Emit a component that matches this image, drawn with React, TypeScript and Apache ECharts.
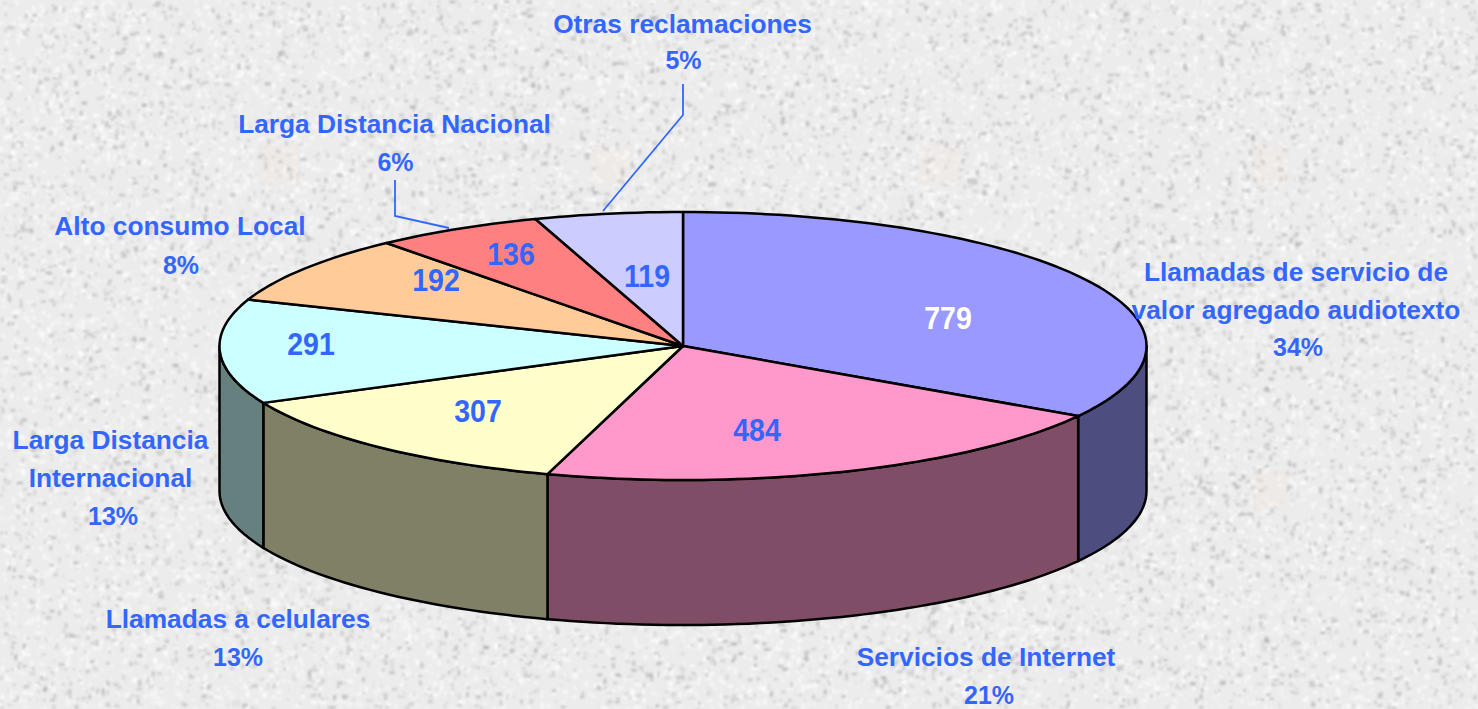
import React, { useEffect, useRef } from "react";
import * as echarts from "echarts";

const categories = [
  ["Llamadas de servicio de", "valor agregado audiotexto"],
  ["Servicios de Internet"],
  ["Llamadas a celulares"],
  ["Larga Distancia", "Internacional"],
  ["Alto consumo Local"],
  ["Larga Distancia Nacional"],
  ["Otras reclamaciones"],
];
const values = [779, 484, 307, 291, 192, 136, 119];
const topColors = ["#9999FF", "#FF99CC", "#FFFFCC", "#CCFFFF", "#FFCC99", "#FF8080", "#CCCCFF"];
const wallColors = ["#4D4D80", "#804D66", "#808066", "#668080", "#806650", "#804040", "#666680"];
const valueColors = ["#FFFFFF", "#3366FF", "#3366FF", "#3366FF", "#3366FF", "#3366FF", "#3366FF"];
const valueLabelPos = [[948, 318], [757, 430], [478, 411], [311, 344], [436, 280], [511, 254], [647, 276]];
const nameLabelPos = [[1296, 272], [986, 657], [238, 619], [110.5, 440], [180, 226], [394.5, 124], [682.5, 24]];
const pctLabelOffset = [2, 3, 0, 2.5, 1, 1, 1];
const lineGaps = [37.7, 38, 38, 38, 39, 38, 36];
const leaders = [
  [[395, 180], [395, 216], [449, 228]],
  [[683, 84], [683, 115], [603, 211]],
];

const CX = 683, CY = 346, RX = 463.5, RY = 134, DEPTH = 145;
const total = values.reduce((a, b) => a + b, 0);
const BLUE = "#3366FF";
const FONT = '"Liberation Sans", Arial, sans-serif';

const pt = (deg: number, dy = 0): [number, number] => {
  const t = (deg * Math.PI) / 180;
  return [CX + RX * Math.sin(t), CY - RY * Math.cos(t) + dy];
};
const arc = (a: number, b: number, dy = 0) => {
  const out: [number, number][] = [];
  const n = Math.max(2, Math.ceil(Math.abs(b - a) / 1.5));
  for (let i = 0; i <= n; i++) out.push(pt(a + ((b - a) * i) / n, dy));
  return out;
};

function texture(): string {
  const W = 1478, H = 709;
  const raw = document.createElement("canvas");
  raw.width = W;
  raw.height = H;
  const g = raw.getContext("2d")!;
  g.fillStyle = "#ececec";
  g.fillRect(0, 0, W, H);
  let s = 12345;
  const next = () => {
    s = (Math.imul(s, 1103515245) + 12345) & 0x7fffffff;
    return ((s >>> 8) & 0xffff) / 0xffff;
  };
  for (let i = 0; i < 30000; i++) {
    const x = next() * W, y = next() * H, r = 1 + next() * 2, k = next();
    g.fillStyle = k < 0.4 ? `rgba(160,160,160,${0.15 + next() * 0.35})` : `rgba(255,255,255,${0.3 + next() * 0.45})`;
    if (next() < 0.5) g.fillRect(x - r, y - r * 0.6, r * 2, r * 1.2);
    else g.fillRect(x - r * 0.6, y - r, r * 1.2, r * 2);
  }
  // faint beige motif of the backdrop
  g.fillStyle = "rgba(240,226,210,0.16)";
  [[280, 165], [612, 165], [940, 165], [1270, 165], [1270, 490]].forEach(([x, y]) => g.fillRect(x - 20, y - 20, 40, 40));
  const c = document.createElement("canvas");
  c.width = W;
  c.height = H;
  const h = c.getContext("2d")!;
  h.fillStyle = "#ececec";
  h.fillRect(0, 0, W, H);
  h.filter = "blur(0.9px)";
  h.drawImage(raw, 0, 0);
  return c.toDataURL("image/png");
}

function renderSlice(params: any, api: any) {
  const i = params.dataIndex;
  const v = api.value(0);
  let before = 0;
  for (let k = 0; k < i; k++) before += values[k];
  const a = (before / total) * 360;
  const b = ((before + v) / total) * 360;
  const style = { lineWidth: 2.5, stroke: "#000", lineJoin: "round" };
  const children: any[] = [];
  const wa = Math.max(a, 90), wb = Math.min(b, 270);
  if (wb > wa) {
    children.push({
      type: "polygon",
      shape: { points: [...arc(wa, wb), ...arc(wb, wa, DEPTH)] },
      style: { ...style, fill: wallColors[i] },
    });
  }
  children.push({
    type: "polygon",
    shape: { points: [[CX, CY], ...arc(a, b)] },
    style: { ...style, fill: topColors[i] },
  });
  return { type: "group", children };
}

function renderLabels(params: any, api: any) {
  const i = params.dataIndex;
  const v = api.value(0);
  const pct = Math.round((v / total) * 100) + "%";
  const [x, y] = nameLabelPos[i];
  const names = categories[i];
  const children: any[] = names.map((t, k) => ({
    type: "text",
    x,
    y: y + k * lineGaps[i],
    style: { text: t, fill: BLUE, font: `bold 26.3px ${FONT}`, align: "center", verticalAlign: "middle" },
  }));
  children.push({
    type: "text",
    x: x + pctLabelOffset[i],
    y: y + names.length * lineGaps[i],
    style: { text: pct, fill: BLUE, font: `bold 25px ${FONT}`, align: "center", verticalAlign: "middle" },
  });
  children.push({
    type: "text",
    x: valueLabelPos[i][0],
    y: valueLabelPos[i][1],
    scaleX: 0.92,
    style: { text: String(v), fill: valueColors[i], font: `bold 31px ${FONT}`, align: "center", verticalAlign: "middle" },
  });
  return { type: "group", children };
}

export default function App() {
  const ref = useRef<HTMLDivElement>(null);
  useEffect(() => {
    document.body.style.margin = "0";
    const el = ref.current!;
    el.style.backgroundImage = `url(${texture()})`;
    const chart = echarts.init(el, undefined, { renderer: "svg" });
    chart.setOption({
      animation: false,
      backgroundColor: "transparent",
      series: [
        { type: "custom", coordinateSystem: "none", z: 2, silent: true, data: values.map((v) => [v]), renderItem: renderSlice },
        { type: "custom", coordinateSystem: "none", z: 5, silent: true, data: values.map((v) => [v]), renderItem: renderLabels },
      ],
      graphic: leaders.map((points) => ({
        type: "polyline",
        z: 4,
        silent: true,
        shape: { points },
        style: { stroke: BLUE, lineWidth: 1.8, fill: "none" },
      })),
    });
    return () => chart.dispose();
  }, []);
  return <div ref={ref} style={{ width: 1478, height: 709, overflow: "hidden" }} />;
}
